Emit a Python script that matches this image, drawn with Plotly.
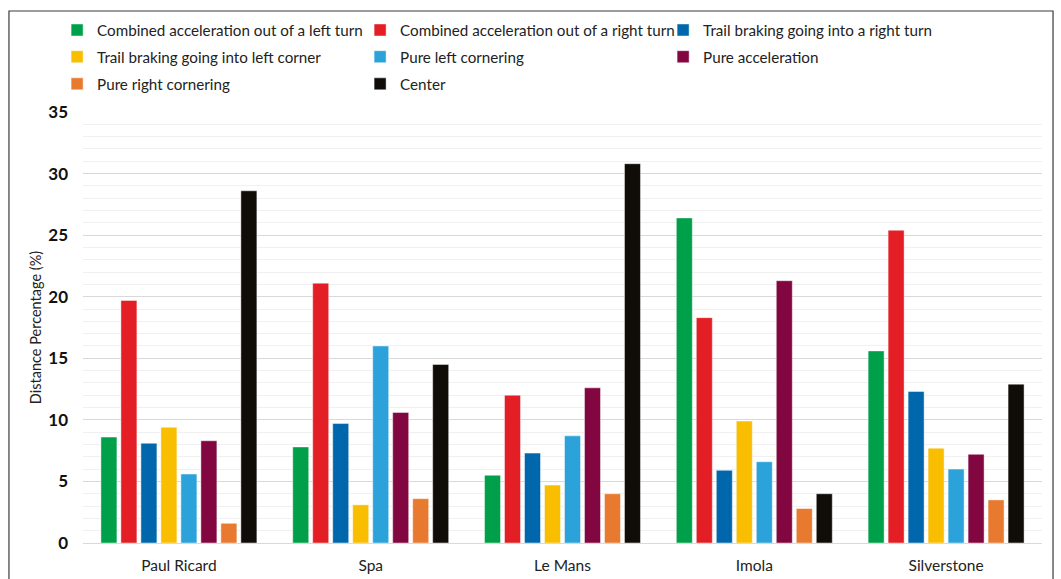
import plotly.graph_objects as go

# Circuits along the x axis
circuits = ["Paul Ricard", "Spa", "Le Mans", "Imola", "Silverstone"]

# Distance share (%) per driving situation, one value per circuit
combined_left = [8.6, 7.8, 5.5, 26.4, 15.6]
combined_right = [19.7, 21.1, 12.0, 18.3, 25.4]
trail_right = [8.1, 9.7, 7.3, 5.9, 12.3]
trail_left = [9.4, 3.1, 4.7, 9.9, 7.7]
pure_left = [5.6, 16.0, 8.7, 6.6, 6.0]
pure_accel = [8.3, 10.6, 12.6, 21.3, 7.2]
pure_right = [1.6, 3.6, 4.0, 2.8, 3.5]
center = [28.6, 14.5, 30.8, 4.0, 12.9]

# (name, values, colour, legend row)
series = [
    ("Combined acceleration out of a left turn", combined_left, "#00A04A", "legend"),
    ("Combined acceleration out of a right turn", combined_right, "#E31E24", "legend"),
    ("Trail braking going into a right turn", trail_right, "#0067AC", "legend"),
    ("Trail braking going into left corner", trail_left, "#F9BE00", "legend2"),
    ("Pure left cornering", pure_left, "#2CA2DA", "legend2"),
    ("Pure acceleration", pure_accel, "#82063F", "legend2"),
    ("Pure right cornering", pure_right, "#E87A30", "legend3"),
    ("Center", center, "#100C08", "legend3"),
]

FONT = "Lato"

fig = go.Figure()
for name, vals, color, leg in series:
    fig.add_trace(go.Bar(
        x=circuits, y=vals, name=name, legend=leg,
        marker=dict(color=color, line=dict(color="rgba(255,255,255,0.45)", width=1)),
    ))

# Outer frame around the whole chart
fig.add_shape(type="rect", xref="paper", yref="paper",
              x0=-0.0772, x1=1.0115, y0=-0.2, y1=1.2343,
              line=dict(color="#3a3a3a", width=1.2), fillcolor="rgba(0,0,0,0)",
              layer="below")


def legend_row(y):
    return dict(
        orientation="h", x=-0.027, y=y, xanchor="left", yanchor="middle",
        font=dict(family=FONT, size=15.2, color="#222"),
        entrywidth=258, entrywidthmode="pixels",
        itemwidth=30, traceorder="normal",
        bgcolor="rgba(0,0,0,0)",
    )


fig.update_layout(
    width=1061, height=579,
    margin=dict(l=83, r=19, t=112, b=36),
    paper_bgcolor="white", plot_bgcolor="white",
    barmode="group", bargap=0.166, bargroupgap=0.2,
    font=dict(family=FONT, color="#222"),
    showlegend=True,
    legend=legend_row(1.190),
    legend2=legend_row(1.128),
    legend3=legend_row(1.065),
    xaxis=dict(
        automargin=False,
        showgrid=False, showline=False, zeroline=False,
        ticks="outside", ticklen=8, tickcolor="rgba(0,0,0,0)",
        tickfont=dict(family=FONT, size=15.5, color="#222"),
    ),
    yaxis=dict(
        automargin=False,
        range=[0, 35], dtick=5, tick0=0,
        showgrid=True, gridcolor="#d9d9d9", gridwidth=1.3,
        zeroline=True, zerolinecolor="#d9d9d9", zerolinewidth=1.3,
        minor=dict(dtick=1, showgrid=True, gridcolor="#f0f0f0", gridwidth=1.3),
        tickfont=dict(family=FONT, size=17, color="#111", weight="bold"),
        ticklabelstandoff=14,
        title=dict(text="Distance Percentage (%)", standoff=3,
                   font=dict(family=FONT, size=14.5, color="#222")),
    ),
)

fig.write_html("out.html")
